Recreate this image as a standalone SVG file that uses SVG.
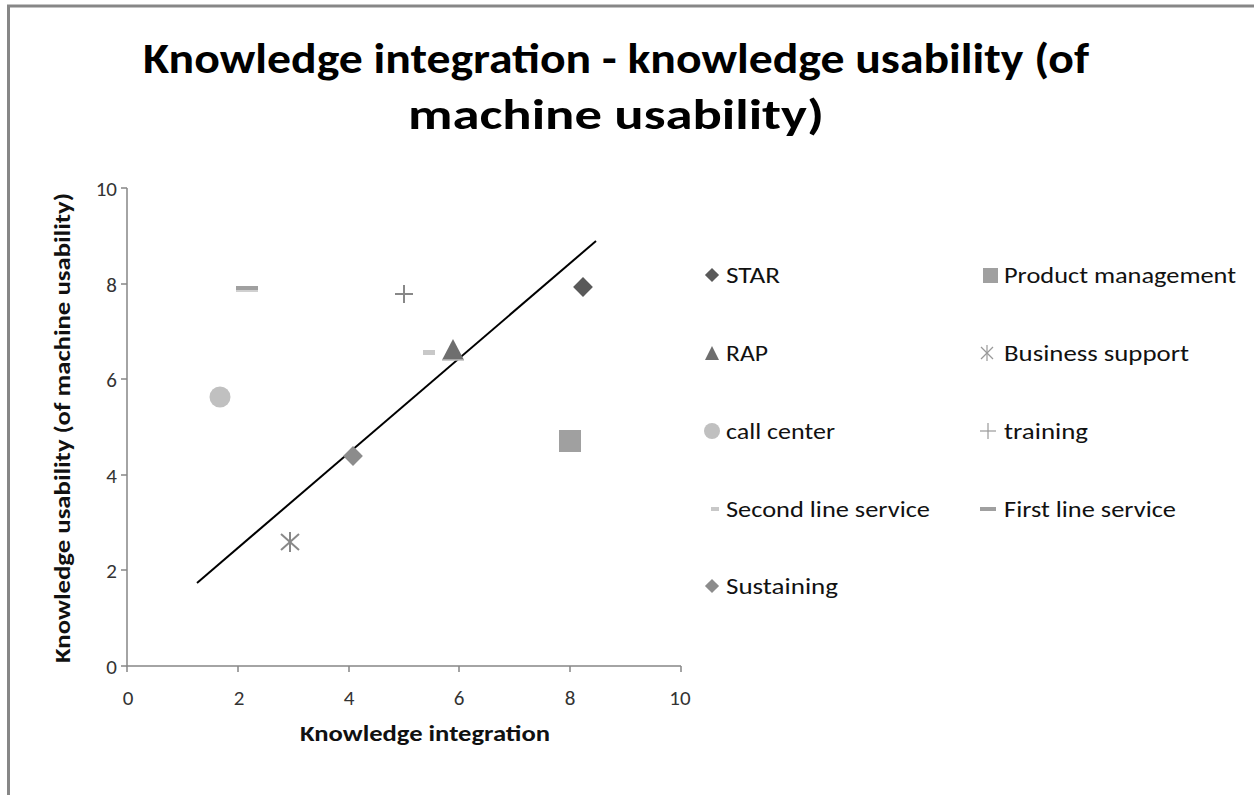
<svg xmlns="http://www.w3.org/2000/svg" width="1254" height="795" viewBox="0 0 1254 795">
  <style>
    .title { font-family: Carlito, Lato, "Liberation Sans", sans-serif; font-weight: bold; font-size: 43px; fill: #000; }
    .axt { font-family: Carlito, Lato, "Liberation Sans", sans-serif; font-weight: bold; font-size: 23px; fill: #111; }
    .tick { font-family: Carlito, Lato, "Liberation Sans", sans-serif; font-size: 21px; fill: #333; }
    .leg { font-family: Carlito, Lato, "Liberation Sans", sans-serif; font-size: 23px; fill: #111; }
    .axis { stroke: #868686; stroke-width: 1.5; fill: none; }
  </style>
  <rect width="1254" height="795" fill="#fff"/>
  <!-- chart frame (runs off the right and bottom edges) -->
  <rect x="8.5" y="6" width="1260" height="800" fill="none" stroke="#878787" stroke-width="3"/>

  <text class="title" x="616" y="73" text-anchor="middle" textLength="946" lengthAdjust="spacingAndGlyphs">Knowledge integration - knowledge usability (of</text>
  <text class="title" x="616" y="129" text-anchor="middle" textLength="416" lengthAdjust="spacingAndGlyphs">machine usability)</text>

  <g id="axes">
    <path class="axis" d="M127 188 V666 H681"/>
    <path class="axis" d="M121 188 H127 M121 284 H127 M121 379 H127 M121 475 H127 M121 570 H127 M121 666 H127"/>
    <path class="axis" d="M127 666 V672 M238 666 V672 M349 666 V672 M459 666 V672 M570 666 V672 M681 666 V672"/>
    <g class="tick" text-anchor="end">
      <text x="117" y="196">10</text>
      <text x="117" y="292">8</text>
      <text x="117" y="387">6</text>
      <text x="117" y="483">4</text>
      <text x="117" y="578">2</text>
      <text x="117" y="674">0</text>
    </g>
    <g class="tick" text-anchor="middle">
      <text x="128" y="705">0</text>
      <text x="239" y="705">2</text>
      <text x="349" y="705">4</text>
      <text x="459" y="705">6</text>
      <text x="570" y="705">8</text>
      <text x="680" y="705">10</text>
    </g>
    <text class="axt" x="425" y="741" text-anchor="middle" textLength="250" lengthAdjust="spacingAndGlyphs">Knowledge integration</text>
    <text class="axt" transform="translate(70 428) rotate(-90)" text-anchor="middle" textLength="470" lengthAdjust="spacingAndGlyphs">Knowledge usability (of machine usability)</text>
  </g>

  <!-- trend line -->
  <g id="connectors">
    <line x1="197" y1="583" x2="596" y2="241" stroke="#000" stroke-width="2"/>
  </g>

  <!-- data points -->
  <g id="star"><rect x="576" y="280" width="14" height="14" fill="#595959" transform="rotate(45 583 287)"/></g>
  <g id="product-management"><rect x="559" y="430" width="22" height="22" fill="#a0a0a0"/></g>
  <g id="rap"><polygon points="453,339 464,360 442,360" fill="#6e6e6e"/><line x1="442" y1="360" x2="464" y2="360" stroke="#bdbdbd" stroke-width="1.5"/></g>
  <g id="business-support" stroke="#888" stroke-width="2">
    <line x1="290" y1="532" x2="290" y2="552"/>
    <line x1="281" y1="534" x2="299" y2="550"/>
    <line x1="299" y1="534" x2="281" y2="550"/>
  </g>
  <g id="call-center"><circle cx="220" cy="397" r="10.5" fill="#c0c0c0"/></g>
  <g id="training" stroke="#888" stroke-width="2">
    <line x1="395" y1="294" x2="413" y2="294"/>
    <line x1="404" y1="285" x2="404" y2="303"/>
  </g>
  <g id="second-line-service"><rect x="423" y="350" width="12" height="5" fill="#c8c8c8"/></g>
  <g id="first-line-service"><rect x="236" y="286" width="22" height="4" fill="#a0a0a0"/><rect x="236" y="290" width="22" height="2" fill="#d0d0d0"/></g>
  <g id="sustaining"><rect x="346" y="449" width="14" height="14" fill="#8c8c8c" transform="rotate(45 353 456)"/></g>

  <!-- legend -->
  <g id="legend">
    <rect x="707" y="270" width="10" height="10" fill="#595959" transform="rotate(45 712 275)"/>
    <text class="leg" x="726" y="283" textLength="54" lengthAdjust="spacingAndGlyphs">STAR</text>
    <rect x="983" y="268" width="15" height="15" fill="#a0a0a0"/>
    <text class="leg" x="1004" y="283" textLength="232" lengthAdjust="spacingAndGlyphs">Product management</text>

    <polygon points="712,346 719,360 705,360" fill="#6e6e6e"/>
    <text class="leg" x="726" y="361" textLength="42" lengthAdjust="spacingAndGlyphs">RAP</text>
    <g stroke="#999" stroke-width="1.2">
      <line x1="987" y1="345" x2="987" y2="361"/>
      <line x1="981" y1="347" x2="993" y2="359"/>
      <line x1="993" y1="347" x2="981" y2="359"/>
    </g>
    <text class="leg" x="1004" y="361" textLength="185" lengthAdjust="spacingAndGlyphs">Business support</text>

    <circle cx="712" cy="431" r="8" fill="#c0c0c0"/>
    <text class="leg" x="726" y="439" textLength="109" lengthAdjust="spacingAndGlyphs">call center</text>
    <g stroke="#999" stroke-width="1.2">
      <line x1="980" y1="431" x2="996" y2="431"/>
      <line x1="988" y1="423" x2="988" y2="439"/>
    </g>
    <text class="leg" x="1004" y="439" textLength="84" lengthAdjust="spacingAndGlyphs">training</text>

    <rect x="711" y="507" width="8" height="4" fill="#c8c8c8"/>
    <text class="leg" x="726" y="517" textLength="204" lengthAdjust="spacingAndGlyphs">Second line service</text>
    <rect x="980" y="507" width="16" height="4" fill="#a0a0a0"/>
    <text class="leg" x="1004" y="517" textLength="172" lengthAdjust="spacingAndGlyphs">First line service</text>

    <rect x="707" y="581" width="10" height="10" fill="#8c8c8c" transform="rotate(45 712 586)"/>
    <text class="leg" x="726" y="594" textLength="112" lengthAdjust="spacingAndGlyphs">Sustaining</text>
  </g>
</svg>
